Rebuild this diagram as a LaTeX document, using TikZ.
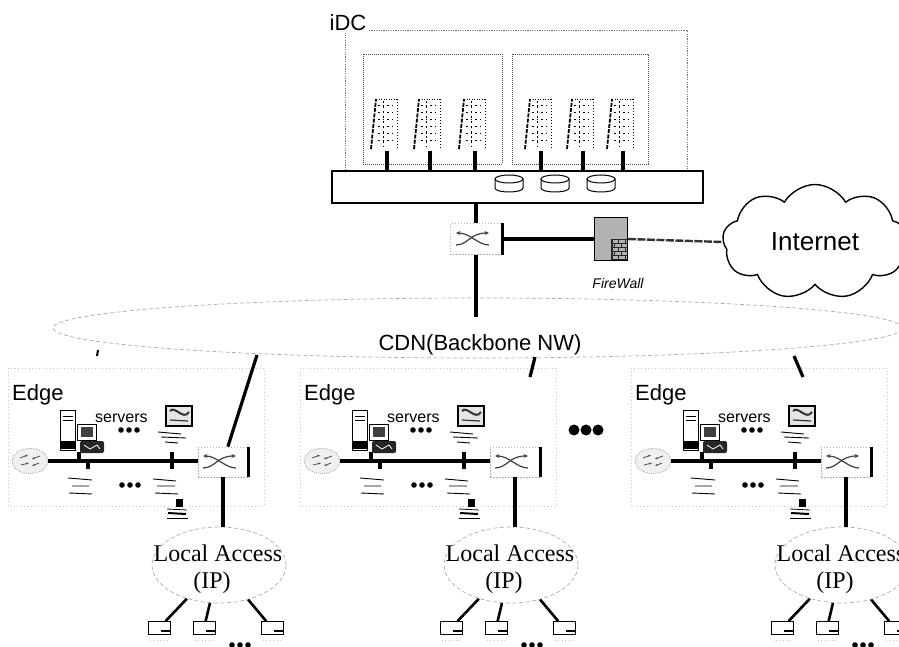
\documentclass[tikz,border=0pt]{standalone}
\usepackage{fontspec}
\setmainfont{Liberation Serif}
\setsansfont{Liberation Sans}
\usetikzlibrary{shapes.geometric,shapes.symbols,arrows.meta}
\newcommand\fsize[1]{\fontsize{#1}{#1}\selectfont}

\tikzset{
  link/.style={line width=3.2pt},
  thinlink/.style={line width=2.6pt},
  weaklink/.style={line width=2.4pt, draw=black!80, dash pattern=on 8pt off 1.5pt},
  framedot/.style={draw=black!70, line width=0.8pt, dash pattern=on 0.8pt off 1.2pt},
  outerdot/.style={draw=black!55, line width=0.7pt, dash pattern=on 1.2pt off 1.2pt},
  faintdash/.style={draw=gray!65, line width=0.7pt, dash pattern=on 4pt off 2.5pt},
  faintdot/.style={draw=gray!45, line width=0.7pt, dash pattern=on 1pt off 2.5pt},
  sanslabel/.style={font=\sffamily\fsize{22}, inner sep=0pt},
  seriflabel/.style={font=\rmfamily\fsize{24}, inner sep=0pt},
  hub/.style={draw, line width=1.3pt, fill=white, inner sep=0pt},
  switchnode/.style={draw=gray!60, line width=0.7pt, dash pattern=on 1.5pt off 1.5pt,
    fill=white, minimum width=52pt, minimum height=31pt, inner sep=0pt,
    path picture={
      \begin{scope}[shift={(path picture bounding box.center)}, solid, line width=1.2pt, draw=black!75]
        \draw[-{Stealth[length=4.5pt,width=4pt]}] (-20,6) .. controls (-8,6) and (-6,-6) .. (13,-6);
        \draw[-{Stealth[length=4.5pt,width=4pt]}] (13,6) .. controls (2,6) and (-6,-6) .. (-20,-6);
      \end{scope}}},
  wallnode/.style={draw, line width=1pt, fill=gray!60, minimum width=33pt, minimum height=43pt, inner sep=0pt,
    path picture={
      \begin{scope}[shift={(path picture bounding box.north west)}, line width=0.7pt, draw=black!85]
        \foreach \r in {0,...,10}{
          \draw (0,\r*4) -- (40,\r*4);
          \pgfmathsetmacro\off{mod(\r,2)*3.5}
          \foreach \c in {0,7,...,35} \draw (\c+\off,\r*4) -- (\c+\off,\r*4+4);
        }
        \draw[line width=2pt] (0.5,0) -- (0.5,44);
      \end{scope}}},
  routernode/.style={ellipse, draw=gray!70, line width=0.7pt, dash pattern=on 1pt off 1pt,
    fill=gray!12, minimum width=36pt, minimum height=25pt, inner sep=0pt,
    path picture={
      \begin{scope}[shift={(path picture bounding box.center)}, solid, line width=0.8pt, draw=gray!60!black]
        \draw[-{Stealth[length=3pt]}] (-10,-3) -- (-2,-6);
        \draw[-{Stealth[length=3pt]}] (10,-5) -- (2,-2);
        \draw[-{Stealth[length=3pt]}] (-9,4) -- (-1,2);
        \draw[-{Stealth[length=3pt]}] (9,2) -- (2,5);
      \end{scope}}},
  pcnode/.style={draw, line width=0.8pt, fill=white, minimum width=22pt, minimum height=13pt, inner sep=0pt,
    path picture={
      \begin{scope}[shift={(path picture bounding box.north west)}]
        \fill (0,0) rectangle (3,13);
        \draw[line width=1.2pt] (2,3) -- (17,3);
        \draw[line width=0.6pt] (4,8) -- (12,8);
      \end{scope}}},
  bigdots/.pic={\foreach \i in {-1,0,1} \fill (\i*12,0) circle (5.5pt);},
  smalldots/.pic={\foreach \i in {-1,0,1} \fill (\i*8,0) circle (2.8pt);},
  rackunit/.pic={
    \draw[line width=1.8pt, dash pattern=on 4pt off 1.3pt] (-16,-2) -- (-11,-52);
    \draw[line width=0.8pt, dash pattern=on 1pt off 1.5pt] (-11,-52) -- (10,-52);
    \foreach \yy in {-45,-38,-31,-24,-17,-10}
      \draw[line width=1pt, dash pattern=on 1.5pt off 3pt] (-9,\yy) -- (9,\yy);
    \draw[line width=1pt, dash pattern=on 2.5pt off 2.5pt] (-4,-50) -- (-4,-4);
    \draw[line width=0.6pt, dash pattern=on 1pt off 2pt] (10,-52) -- (10,-3);
  },
  disk/.pic={
    \draw[line width=1pt, fill=white] (-14,-5) -- (-14,4) .. controls (-14,9.3) and (14,9.3) .. (14,4) -- (14,-5);
    \draw[line width=1pt, fill=white] (0,-5) ellipse [x radius=14pt, y radius=4pt];
  }
}

\begin{document}
\begin{tikzpicture}[x=1pt,y=-1pt]
\useasboundingbox (0,0) rectangle (899,647);

% ---------------- data centre ----------------
\draw[outerdot] (345,30) rectangle (687,171);
\node[sanslabel, fill=white, inner sep=1.5pt, anchor=base] (idc) at (348,31) {iDC};
\draw[framedot] (363,54) rectangle (502,164);
\draw[framedot] (512,54) rectangle (648,164);
\node[hub, minimum width=371pt, minimum height=32pt] (bar) at (517.5,187) {};
\foreach \n/\sx in {1/387,2/430,3/475,4/541,5/583,6/623} {
  \coordinate (rk\n) at (\sx,151);
  \pic at (rk\n) {rackunit};
  \draw[link] (rk\n) -- (rk\n |- bar.north);
}
\foreach \dx in {509,555,601} \pic at (\dx,184) {disk};

% ---------------- core switch, firewall, Internet ----------------
\node[switchnode] (sw0) at (476,239) {};
\draw[link] (sw0.north east) -- (sw0.south east);
\draw[link] (sw0 |- bar.south) -- (sw0.north);
\node[wallnode] (fw) at (611,239) {};
\node[font=\sffamily\itshape\fsize{14}, inner sep=0pt, anchor=base] (fwlabel) at (618,288) {FireWall};
\node[cloud, draw, line width=1.4pt, cloud puffs=9, cloud puff arc=120, aspect=1.6,
      minimum width=185pt, minimum height=115pt, inner sep=0pt,
      font=\sffamily\fsize{26}] (inet) at (815,242) {Internet};
\draw[link] (sw0.east) -- (fw.west);
\draw[weaklink] (fw.east) -- (inet.west);

% ---------------- backbone ----------------
\node[ellipse, faintdash, minimum width=850pt, minimum height=60pt, inner sep=0pt] (cdn) at (478,328) {};
\coordinate (cdnin) at (476,317);
\draw[link] (sw0.south) -- (cdnin);
\node[sanslabel, anchor=base] (cdnlabel) at (480,350) {CDN(Backbone NW)};

% ---------------- edge sites ----------------
\foreach \k/\dx in {1/0,2/292,3/623} {
 \begin{scope}[shift={(\dx,0)}]
  \draw[faintdot] (8,368) rectangle (264,506);
  \node[sanslabel, anchor=base west] (edge\k) at (12,400) {Edge};
  \node[routernode] (rt\k) at (30,461) {};
  \node[switchnode, minimum width=50pt, minimum height=30pt] (sw\k) at (223,462) {};
  \draw[link] (sw\k.north east) -- (sw\k.south east);
  \draw[link] (rt\k.east) -- (rt\k.east -| sw\k.west);
  % workstation: tower, monitor, base unit
  \node[draw, line width=1pt, fill=white, minimum width=15pt, minimum height=40pt, inner sep=0pt] (tw\k) at (68,430) {};
  \draw[line width=0.8pt] (63,416) -- (73,416) (63,420) -- (73,420);
  \fill (61,441) rectangle (75,449);
  \node[draw, line width=1pt, fill=white, minimum width=19pt, minimum height=16pt, inner sep=0pt] (mn\k) at (87,432) {};
  \fill[black!75] (81,427) rectangle (93,437);
  \node[fill=black!85, rounded corners=2pt, minimum width=24pt, minimum height=12pt, inner sep=0pt] (kb\k) at (92,447) {};
  \draw[white, line width=0.8pt] (84,445) -- (90,449) -- (97,445) -- (100,449);
  \node[font=\sffamily\fsize{16}, inner sep=0pt, anchor=base west] (srv\k) at (95,422) {servers};
  \pic at (129,430) {smalldots};
  % media server
  \node[draw, line width=1.6pt, fill=gray!20, minimum width=26pt, minimum height=20pt, inner sep=0pt] (ws\k) at (179,416) {};
  \draw[line width=2pt, black!80] (170,411) .. controls (175,405) and (183,421) .. (189,412);
  \draw[line width=1.2pt, black!80] (170,420) -- (188,421);
  \draw[line width=0.9pt] (158,432) -- (181,434) (161,437) -- (186,438) (165,442) -- (178,443);
  % drops onto the bus
  \draw[link] (79,452) -- (79,463);
  \draw[link] (88,461) -- (88,469);
  \draw[link] (172,452) -- (172,469);
  % storage units below the bus
  \draw[line width=0.9pt] (68,478) -- (92,480) (72,486) -- (89,486) (69,493) -- (92,494);
  \pic at (130,485) {smalldots};
  \draw[line width=0.9pt] (153,479) -- (176,481) (157,486) -- (175,486) (155,493) -- (178,494);
  \fill (176,499) rectangle (183,507);
  \draw[line width=0.8pt] (167,509) -- (187,510);
  \draw[line width=2pt] (168,513) -- (186,514);
  \draw[line width=0.6pt] (167,518) -- (188,518);
  % local access network
  \node[ellipse, faintdash, minimum width=134pt, minimum height=76pt, inner sep=0pt] (la\k) at (219,565) {};
  \draw[link] (sw\k.south) -- (sw\k.south |- la\k.north);
  \node[seriflabel, anchor=base] (lat\k) at (218,561) {Local Access};
  \node[seriflabel, anchor=base] (ip\k) at (212,588) {(IP)};
  \node[pcnode] (pca\k) at (159,628) {};
  \node[pcnode] (pcb\k) at (204,628) {};
  \node[pcnode] (pcc\k) at (272,628) {};
  \foreach \p in {pca,pcb,pcc} {
    \draw[thinlink] (la\k) -- (\p\k);
    \draw[faintdot] (\p\k.south west) ++(2,5) -- ++(18,0);
  }
  \pic at (240,645) {smalldots};
 \end{scope}
}

% ---------------- backbone drops to the edges ----------------
\coordinate (up1) at (257,355);
\draw[link] (up1) -- (sw1);
\coordinate (up2a) at (535,357);
\coordinate (up2b) at (530,377);
\draw[link] (up2a) -- (up2b);
\coordinate (up3a) at (794,356);
\coordinate (up3b) at (803,377);
\draw[link] (up3a) -- (up3b);
\coordinate (nickA) at (98,350);
\coordinate (nickB) at (97,356);
\draw[line width=2pt] (nickA) -- (nickB);
\pic at (586,430) {bigdots};

\end{tikzpicture}
\end{document}
